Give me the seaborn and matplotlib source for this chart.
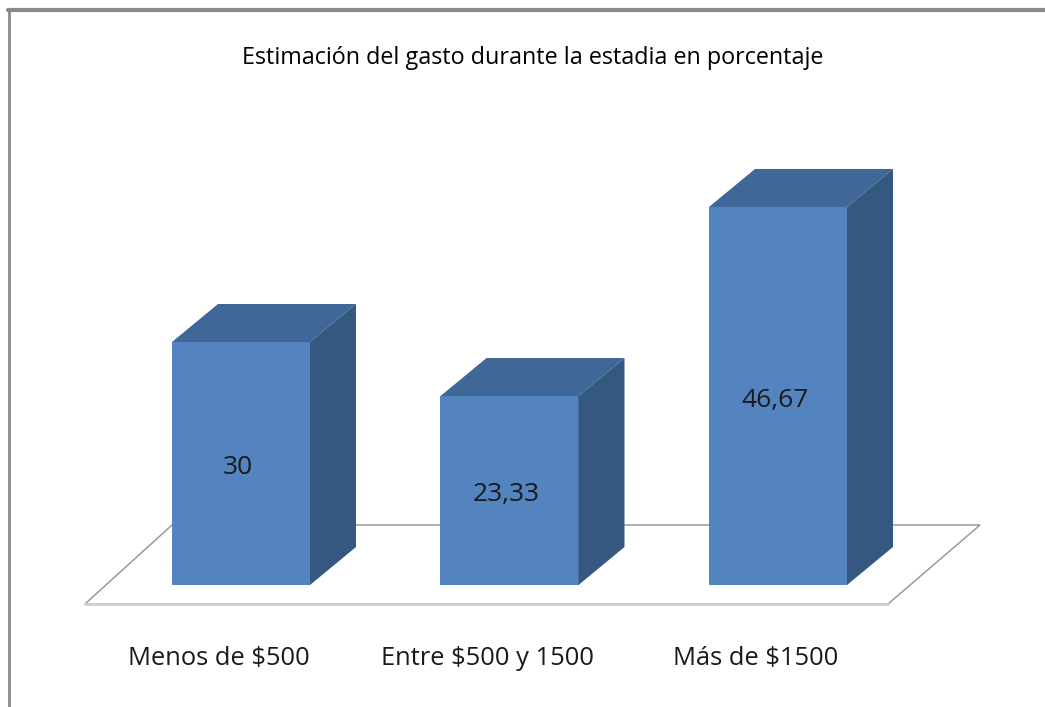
import matplotlib
matplotlib.use("Agg")
import matplotlib.pyplot as plt
from matplotlib.patches import Polygon
from matplotlib.lines import Line2D
from matplotlib.transforms import ScaledTranslation
import pandas as pd
import seaborn as sns

categories = ["Menos de $500", "Entre $500 y 1500", "Más de $1500"]
values = [30, 23.33, 46.67]
value_labels = ["30", "23,33", "46,67"]
title = "Estimación del gasto durante la estadia en porcentaje"

W, H = 1045, 707
sns.set_theme(style="white")
plt.rcParams["font.family"] = ["Open Sans", "DejaVu Sans"]
fig = plt.figure(figsize=(W / 100, H / 100), dpi=100, facecolor="white")
base_px = 585
ax = fig.add_axes([0, (H - base_px) / H, 1, base_px / H])
df = pd.DataFrame({"cat": categories, "val": values})
sns.barplot(data=df, x="cat", y="val", color="#5384BF", saturation=1, width=0.514,
            linewidth=0, ax=ax, zorder=3)

sx = 268.5
sy = 8.1
ax.set_xlim(-241 / sx, (W - 241) / sx)
ax.set_ylim(0, base_px / sy)
dx, dy = 46 / sx, 38 / sy

for b, lab in zip(ax.patches, value_labels):
    x0, x1 = b.get_x(), b.get_x() + b.get_width()
    h = b.get_height()
    ax.add_patch(Polygon([(x0, h), (x1, h), (x1 + dx, h + dy), (x0 + dx, h + dy)],
                         closed=True, fc="#3F6899", ec="none", zorder=4, clip_on=False))
    ax.add_patch(Polygon([(x1, 0), (x1 + dx, dy), (x1 + dx, h + dy), (x1, h)],
                         closed=True, fc="#355880", ec="none", zorder=4, clip_on=False))
    ax.annotate(lab, ((x0 + x1) / 2, h / 2), xytext=(-2, -3), textcoords="offset points",
                ha="center", va="center", fontsize=19, color="#1A1A1A", zorder=5)

# floor
fx0, fx1 = (85 - 241) / sx, (888 - 241) / sx
bx0, bx1 = (172 - 241) / sx, (980 - 241) / sx
fy, by = (585 - 604) / sy, (585 - 525) / sy
ax.add_patch(Polygon([(fx0, fy), (fx1, fy), (bx1, by), (bx0, by)], closed=True,
                     fc="white", ec="#9A9A9A", lw=1.1, zorder=1, clip_on=False))
ax.plot([fx0, fx1], [fy, fy], color="#CFCFCF", lw=2, zorder=2, clip_on=False)

sns.despine(ax=ax, left=True, bottom=True)
ax.set_xlabel("")
ax.set_ylabel("")
ax.set_yticks([])
ax.tick_params(axis="x", length=0, pad=44, labelsize=18.4, labelcolor="#1A1A1A")
shift = ScaledTranslation(-22 / 100, 0, fig.dpi_scale_trans)
for t in ax.get_xticklabels():
    t.set_transform(t.get_transform() + shift)

fig.text(533 / W, 1 - 58 / H, title, ha="center", va="center", fontsize=16.8, color="black")

# outer frame
fig.add_artist(Line2D([8 / W, 1], [1 - 10 / H] * 2, color="#8A8A8A", lw=3))
fig.add_artist(Line2D([9 / W, 9 / W], [1 - 10 / H, 0], color="#8A8A8A", lw=2))

fig.savefig("out.png", dpi=100)
